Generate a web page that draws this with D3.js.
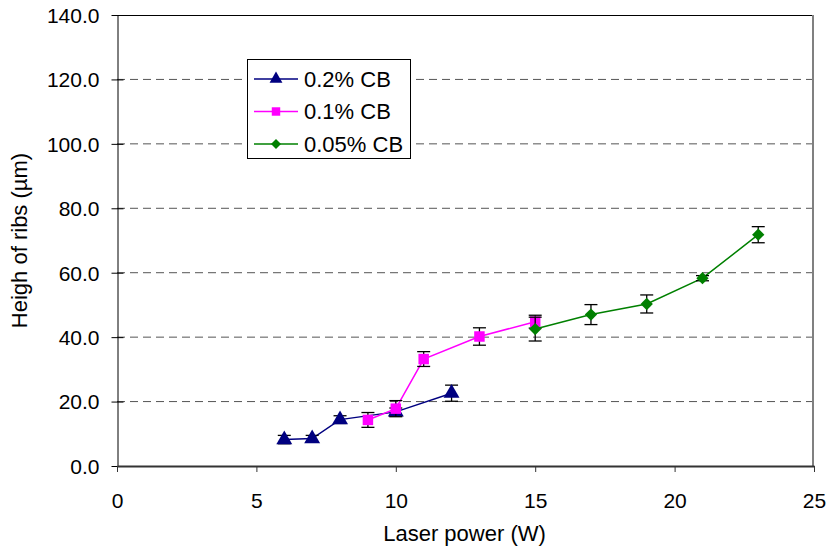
<!DOCTYPE html>
<html><head><meta charset="utf-8">
<script src="https://cdn.jsdelivr.net/npm/d3@7"></script>
<style>body{margin:0;background:#fff}svg{display:block}text{font-family:"Liberation Sans",Arial,sans-serif;fill:#000}</style>
</head><body><svg id="c" width="826" height="548"></svg>
<script>
const xTicks = [0,5,10,15,20,25];
const yTicks = [0,20,40,60,80,100,120,140];
const seriesNames = ["0.2% CB","0.1% CB","0.05% CB"];
const cb02x = [6,7,8,10,12];
const cb02y = [8.2,8.5,14.4,16.8,22.6];
const cb02e = [1.3,1.0,1.2,1.2,2.5];
const cb01x = [9,10,11,13,15];
const cb01y = [14.3,17.8,33.2,40.2,44.8];
const cb01e = [2.3,2.5,2.3,2.7,2.0];
const cb005x = [15,17,19,21,23];
const cb005y = [42.5,47.0,50.3,58.3,71.8];
const cb005e = [3.7,3.1,2.8,0.8,2.5];

const svg = d3.select("#c");
const L=117,R=814,T=15,B=466;
const x = d3.scaleLinear().domain([0,25]).range([L,R]);
const y = d3.scaleLinear().domain([0,140]).range([B,T]);

// gridlines
svg.append("g").selectAll("line").data(yTicks.filter(v=>v>0&&v<140)).join("line")
  .attr("x1",L).attr("x2",R).attr("y1",d=>y(d)).attr("y2",d=>y(d))
  .attr("stroke","#555").attr("stroke-width",1).attr("stroke-dasharray","8,5");

// border top/right
svg.append("line").attr("x1",L).attr("x2",R).attr("y1",T+0.5).attr("y2",T+0.5).attr("stroke","#000");
svg.append("line").attr("x1",R-1).attr("x2",R-1).attr("y1",T).attr("y2",B).attr("stroke","#808080").attr("stroke-width",2);

// y axis
const ya = svg.append("g").attr("transform",`translate(${L+0.5},0)`)
  .call(d3.axisLeft(y).tickValues(yTicks).tickFormat(d3.format(".1f")).tickSizeOuter(0).tickSizeInner(6).tickPadding(12));
ya.select(".domain").attr("stroke","#000");
ya.selectAll(".tick line").attr("x2",6).attr("x1",-6).attr("stroke","#000");
ya.selectAll("text").style("font-size","21px").attr("dy","0.35em");

// x axis
const xa = svg.append("g").attr("transform",`translate(0,${B})`)
  .call(d3.axisBottom(x).tickValues(xTicks).tickSizeOuter(0).tickSizeInner(6).tickPadding(21));
xa.select(".domain").attr("stroke","#333").attr("stroke-width",2);
xa.selectAll(".tick line").attr("stroke","#333");
xa.selectAll("text").style("font-size","21px");

svg.append("text").attr("x",(L+R)/2 - 1).attr("y",541).attr("text-anchor","middle").style("font-size","22px").text("Laser power (W)");
svg.append("text").attr("transform",`translate(27,${(T+B)/2}) rotate(-90)`).attr("text-anchor","middle").style("font-size","22px").text("Heigh of ribs (µm)");

const series = [
  {name:seriesNames[0],xs:cb02x,ys:cb02y,es:cb02e,color:"#000080",shape:d3.symbolTriangle,size:110,rot:0},
  {name:seriesNames[1],xs:cb01x,ys:cb01y,es:cb01e,color:"#FF00FF",shape:d3.symbolSquare,size:110,rot:0},
  {name:seriesNames[2],xs:cb005x,ys:cb005y,es:cb005e,color:"#008000",shape:d3.symbolSquare,size:76,rot:45},
];
const line = d3.line().x(d=>x(d[0])).y(d=>y(d[1]));
series.forEach(s=>{
  const pts = s.xs.map((v,i)=>[v,s.ys[i],s.es[i]]);
  const g = svg.append("g");
  g.append("path").attr("d",line(pts)).attr("fill","none").attr("stroke",s.color).attr("stroke-width",1.5);
  const eb = g.selectAll(".eb").data(pts).join("g");
  eb.append("line").attr("x1",d=>x(d[0])).attr("x2",d=>x(d[0])).attr("y1",d=>y(d[1]-d[2])).attr("y2",d=>y(d[1]+d[2])).attr("stroke","#000").attr("stroke-width",1.3);
  [-1,1].forEach(sg=>eb.append("line").attr("x1",d=>x(d[0])-6.5).attr("x2",d=>x(d[0])+6.5).attr("y1",d=>y(d[1]+sg*d[2])).attr("y2",d=>y(d[1]+sg*d[2])).attr("stroke","#000").attr("stroke-width",1.3));
  g.selectAll(".m").data(pts).join("path").attr("transform",d=>`translate(${x(d[0])},${y(d[1])}) rotate(${s.rot})`)
    .attr("d",d3.symbol().type(s.shape).size(s.size)).attr("fill",s.color);
});

// legend
const lg = svg.append("g");
lg.append("rect").attr("x",247.5).attr("y",59.5).attr("width",163).attr("height",99).attr("fill","#fff").attr("stroke","#000");
series.forEach((s,i)=>{
  const cy = 79 + i*32.5;
  lg.append("line").attr("x1",254).attr("x2",298).attr("y1",cy).attr("y2",cy).attr("stroke",s.color).attr("stroke-width",1.5);
  lg.append("path").attr("transform",`translate(276,${cy}) rotate(${s.rot})`).attr("d",d3.symbol().type(s.shape).size(s.size*0.65)).attr("fill",s.color);
  lg.append("text").attr("x",304).attr("y",cy).attr("dy","0.36em").style("font-size","22px").text(s.name);
});
</script></body></html>
